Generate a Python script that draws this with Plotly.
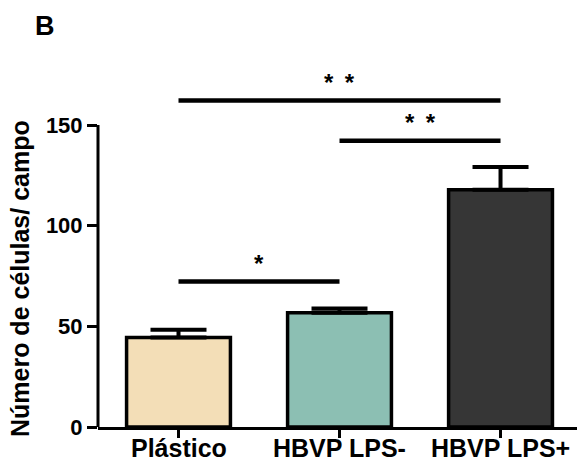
import plotly.graph_objects as go

# ---- data ----
categories = ["Plástico", "HBVP LPS-", "HBVP LPS+"]
means = [44.5, 56.8, 117.8]
sem = [3.8, 2.1, 11.3]
bar_colors = ["#F3DEB7", "#8CBFB3", "#363636"]

# significance brackets (category index start/end, height, label)
sig_start = [0, 0, 1]
sig_end = [1, 2, 2]
sig_y = [72.3, 162.2, 142.2]
sig_label = ["*", "*\u00a0\u2009*", "*\u00a0\u2009*"]

y_tickvals = [0, 50, 100, 150]
y_axis_max = 150

FONT = "Liberation Sans, Arial, sans-serif"

fig = go.Figure()
fig.add_trace(go.Bar(
    x=list(range(len(categories))),
    y=means,
    width=0.645,
    marker=dict(color=bar_colors, line=dict(color="black", width=3.5)),
    error_y=dict(type="data", symmetric=False, array=sem, arrayminus=[0] * len(sem),
                 color="black", thickness=4, width=28),
    showlegend=False,
))

shapes = []
# y axis line from 0 to 150 only
shapes.append(dict(type="line", xref="paper", yref="y", x0=0, x1=0, y0=0, y1=y_axis_max,
                   line=dict(color="black", width=3)))
annotations = []
for s, e, h, lab in zip(sig_start, sig_end, sig_y, sig_label):
    shapes.append(dict(type="line", xref="x", yref="y", x0=s, x1=e, y0=h, y1=h,
                       line=dict(color="black", width=4.5)))
    annotations.append(dict(x=(s + e) / 2, y=h, xref="x", yref="y", text=lab,
                            showarrow=False, yanchor="middle", yshift=18,
                            font=dict(family=FONT, size=24, color="black", weight="bold")))

# category labels under the x axis
for i, c in enumerate(categories):
    annotations.append(dict(x=i, y=0, xref="x", yref="y", text=c, showarrow=False,
                            xanchor="center", yanchor="top", yshift=-6, borderpad=0,
                            font=dict(family=FONT, size=25, color="black", weight="bold")))

annotations.append(dict(x=-0.1107, y=1.0926, xref="paper", yref="paper", text="B",
                        showarrow=False, xanchor="center", yanchor="middle",
                        font=dict(family=FONT, size=27, color="black", weight="bold")))
annotations.append(dict(x=-0.1628, y=75, xref="paper", yref="y", text="Número de células/ campo",
                        showarrow=False, xanchor="center", yanchor="middle", textangle=-90,
                        yshift=-3,
                        font=dict(family=FONT, size=25, color="black", weight="bold")))

fig.update_layout(
    width=577, height=461,
    margin=dict(l=98, r=0, t=60, b=34),
    paper_bgcolor="white", plot_bgcolor="white",
    shapes=shapes, annotations=annotations,
    xaxis=dict(range=[-0.5, 2.475], tickmode="array", tickvals=list(range(len(categories))),
               showticklabels=False, automargin=False,
               showline=True, linecolor="black", linewidth=3,
               ticks="outside", ticklen=8, tickwidth=3, tickcolor="black",
               showgrid=False, zeroline=False),
    yaxis=dict(range=[0, 182.3], tickmode="array", tickvals=y_tickvals, automargin=False,
               showline=False, ticks="outside", ticklen=10, tickwidth=3, tickcolor="black",
               showgrid=False, zeroline=False,
               tickfont=dict(family=FONT, size=22, color="black", weight="bold")),
)

fig.write_html("out.html", config={"displayModeBar": False},
               post_script="document.body.style.margin='0';document.body.style.overflow='hidden';")
